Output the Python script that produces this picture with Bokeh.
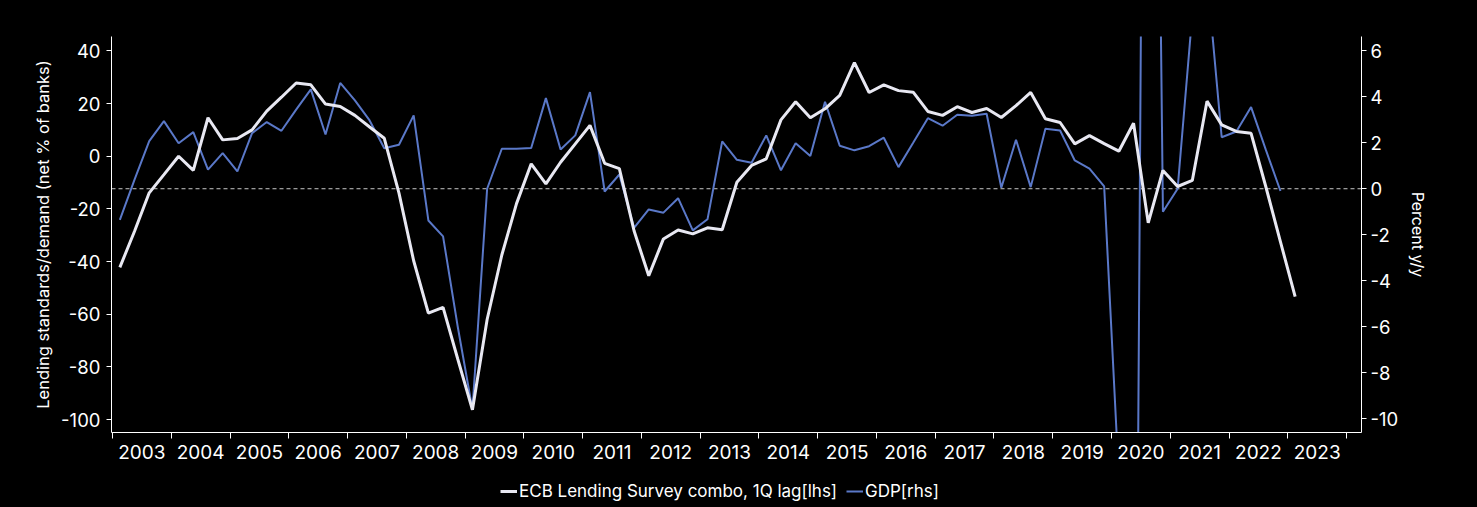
import numpy as np
from bokeh.plotting import figure
from bokeh.models import (Range1d, LinearAxis, FixedTicker, Span, Legend, LegendItem,
                          ColumnDataSource)
from bokeh.layouts import column
from bokeh.core.properties import value
from bokeh.embed import file_html
from bokeh.resources import INLINE

# ---- data -----------------------------------------------------------------
years = list(range(2003, 2024))
year_labels = [str(y) for y in years]

ecb_quarters = [f"{2003 + i // 4}Q{i % 4 + 1}" for i in range(81)]
ecb = [-42.2, -28.5, -13.9, -7.0, 0.0, -5.4, 14.6, 6.2, 6.7, 10.0,
       17.1, 22.4, 27.8, 27.1, 19.8, 18.9, 15.5, 11.1, 6.8, -14.0,
       -39.7, -59.6, -57.4, -77.0, -96.3, -62.0, -37.5, -18.0, -2.9, -10.5,
       -2.3, 4.7, 11.7, -2.7, -4.7, -28.3, -45.4, -31.4, -28.0, -29.5,
       -27.2, -27.9, -9.9, -3.5, -1.0, 13.8, 20.7, 14.6, 18.0, 23.1,
       35.5, 24.2, 27.1, 24.9, 24.3, 17.0, 15.5, 18.8, 16.6, 18.1,
       14.7, 19.2, 24.2, 14.2, 12.8, 4.7, 7.8, 4.8, 1.9, 12.5,
       -25.3, -5.4, -11.5, -9.2, 20.9, 11.9, 9.4, 8.7, -11.5, -32.5,
       -53.3]

gdp_quarters = ecb_quarters[:80]
gdp = [-1.35, 0.4, 2.07, 2.94, 1.98, 2.46, 0.83, 1.55, 0.75, 2.42,
       2.9, 2.52, 3.44, 4.32, 2.36, 4.6, 3.84, 2.97, 1.76, 1.91,
       3.19, -1.38, -2.07, -6.0, -9.6, 0.0, 1.74, 1.74, 1.77, 3.94,
       1.71, 2.32, 4.2, -0.12, 0.62, -1.7, -0.9, -1.04, -0.41, -1.81,
       -1.33, 2.06, 1.26, 1.13, 2.32, 0.8, 1.98, 1.42, 3.78, 1.87,
       1.67, 1.85, 2.22, 0.94, 2.0, 3.07, 2.74, 3.22, 3.17, 3.26,
       0.04, 2.13, 0.07, 2.61, 2.53, 1.23, 0.87, 0.1, -12.6, -41.6,
       55.5, -1.0, 0.0, 7.6, 9.3, 2.24, 2.49, 3.55, 1.7, -0.1]

left_ticks = [-100, -80, -60, -40, -20, 0, 20, 40]
right_ticks = [-10, -8, -6, -4, -2, 0, 2, 4, 6]

ecb_label = "ECB Lending Survey combo, 1Q lag[lhs]"
gdp_label = "GDP[rhs]"


def qpos(q):
    y, n = q.split("Q")
    return int(y) + (int(n) - 1) / 4 + 0.125


ecb_src = ColumnDataSource(dict(x=[qpos(q) for q in ecb_quarters], y=ecb))
gdp_src = ColumnDataSource(dict(x=[qpos(q) for q in gdp_quarters], y=gdp))

FONT = "Inter"
WHITE = "#ffffff"
LINE_WHITE = "#e8e8f2"
BLUE = "#5a78c8"

X0, X1 = 2002.983, 2024.254
p = figure(width=1477, height=472, output_backend="svg", toolbar_location=None,
           x_range=Range1d(X0, X1), y_range=Range1d(-104.9, 45.45),
           background_fill_color=None, border_fill_color=None,
           min_border_left=111, min_border_right=116, min_border_top=36,
           min_border_bottom=40)
p.outline_line_color = None
p.grid.visible = False
p.extra_y_ranges = {"gdp": Range1d(-10.6, 6.62)}

# x axis: ticks at year boundaries, labels mid-year
xa = p.xaxis[0]
xa.ticker = FixedTicker(ticks=[y + 0.5 for y in years],
                        minor_ticks=[float(y) for y in range(2003, 2025)])
xa.major_label_overrides = {y + 0.5: s for y, s in zip(years, year_labels)}
xa.major_tick_in = 0
xa.major_tick_out = 0
xa.minor_tick_in = 0
xa.minor_tick_out = 6
xa.minor_tick_line_color = WHITE
xa.axis_line_color = WHITE
xa.major_label_text_color = WHITE
xa.major_label_text_font = FONT
xa.major_label_text_font_size = "19px"
xa.major_label_standoff = 6

ya = p.yaxis[0]
ya.ticker = FixedTicker(ticks=left_ticks)
ya.major_label_overrides = {t: str(t) for t in left_ticks}
ya.minor_tick_line_color = None
ya.major_tick_in = 0
ya.major_tick_out = 5
ya.major_tick_line_color = WHITE
ya.axis_line_color = WHITE
ya.major_label_text_color = WHITE
ya.major_label_text_font = FONT
ya.major_label_text_font_size = "18.5px"
ya.major_label_standoff = 6
ya.axis_label = "Lending standards/demand (net % of banks)"
ya.axis_label_text_color = WHITE
ya.axis_label_text_font = FONT
ya.axis_label_text_font_size = "16.5px"
ya.axis_label_text_font_style = "normal"
ya.axis_label_standoff = 5

ra = LinearAxis(y_range_name="gdp", ticker=FixedTicker(ticks=right_ticks))
ra.major_label_overrides = {t: str(t) for t in right_ticks}
ra.minor_tick_line_color = None
ra.major_tick_in = 0
ra.major_tick_out = 5
ra.major_tick_line_color = WHITE
ra.axis_line_color = WHITE
ra.major_label_text_color = WHITE
ra.major_label_text_font = FONT
ra.major_label_text_font_size = "18.5px"
ra.major_label_standoff = 4
ra.axis_label = "Percent y/y"
ra.axis_label_text_color = WHITE
ra.axis_label_text_font = FONT
ra.axis_label_text_font_size = "16px"
ra.axis_label_text_font_style = "normal"
ra.axis_label_standoff = 7
p.add_layout(ra, "right")

p.add_layout(Span(location=0, dimension="width", y_range_name="gdp",
                  line_color="#c8c8c8", line_dash="4 3", line_width=1,
                  level="underlay"))

p.line("x", "y", source=gdp_src, y_range_name="gdp", line_color=BLUE, line_width=2)
p.line("x", "y", source=ecb_src, line_color=LINE_WHITE, line_width=3)

# legend strip below the chart (same line styles as the chart's renderers)
lg = figure(width=1477, height=35, output_backend="svg", toolbar_location=None,
            x_range=Range1d(0, 1), y_range=Range1d(0, 1),
            background_fill_color=None, border_fill_color=None,
            min_border_left=0, min_border_right=0, min_border_top=0,
            min_border_bottom=0)
lg.outline_line_color = None
lg.axis.visible = False
lg.grid.visible = False
nan_src = ColumnDataSource(dict(x=np.array([np.nan]), y=np.array([np.nan])))
lg_ecb = lg.line("x", "y", source=nan_src, line_color=LINE_WHITE, line_width=3)
lg_gdp = lg.line("x", "y", source=nan_src, line_color=BLUE, line_width=2)
legend = Legend(items=[LegendItem(label=value(ecb_label), renderers=[lg_ecb]),
                       LegendItem(label=value(gdp_label), renderers=[lg_gdp])],
                orientation="horizontal", location=(389, 6),
                background_fill_color=None, border_line_color=None,
                label_text_color=WHITE,
                label_text_font=FONT, label_text_font_size="17px",
                glyph_width=17, glyph_height=16, label_standoff=2,
                spacing=9, padding=0, margin=0)
lg.add_layout(legend)

page = column(p, lg, spacing=0)
html = file_html(page, INLINE)
html = html.replace("</head>", "<style>html, body { background: #000000; }</style></head>", 1)
open("out.html", "w").write(html)
